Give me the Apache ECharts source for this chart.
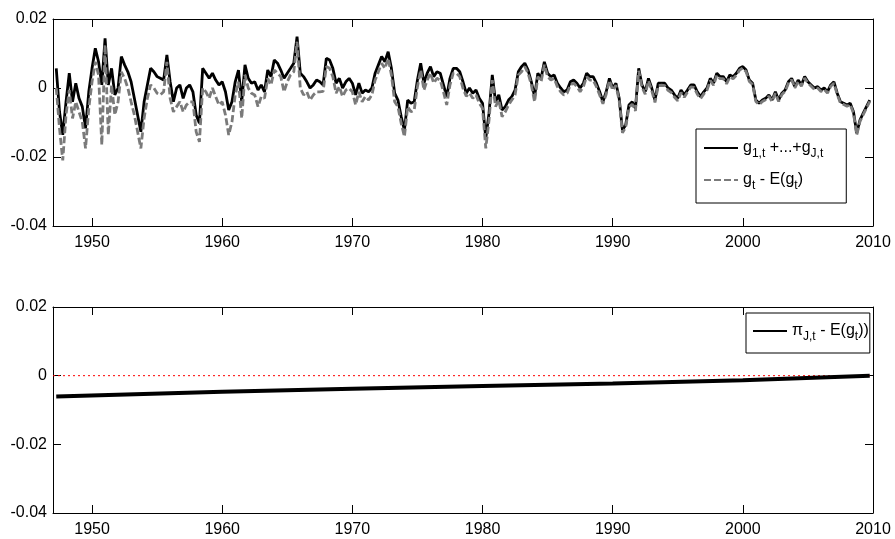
<!DOCTYPE html>
<html>
<head>
    <meta charset="utf-8">
    <title>g sum vs deviation</title>
    <script src="https://cdn.jsdelivr.net/npm/echarts@6/dist/echarts.min.js"></script>
    <style>
        html, body { margin: 0; padding: 0; background: #fff; }
        #main { width: 895px; height: 539px; }
    </style>
</head>
<body>
<div id="main"></div>
<script type="text/javascript">
// first plotted quarter, quarterly step
var startYear = 1947.25;
var yearTicks = [1950, 1960, 1970, 1980, 1990, 2000, 2010];

// g_1,t + ... + g_J,t  (one row per year, Q1..Q4; 1947 starts at Q2)
var sumG = [
    0.0057, -0.0069, -0.0136,
    -0.0040, 0.0043, -0.0040, 0.0014,
    -0.0030, -0.0054, -0.0117, -0.0011,
    0.0057, 0.0115, 0.0076, 0.0009,
    0.0144, 0.0009, 0.0057, -0.0020,
    0.0000, 0.0091, 0.0067, 0.0047,
    0.0018, -0.0030, -0.0078, -0.0127,
    -0.0040, 0.0009, 0.0057, 0.0047,
    0.0033, 0.0028, 0.0023, 0.0096,
    0.0018, -0.0040, 0.0000, 0.0009,
    -0.0030, 0.0000, 0.0009, -0.0011,
    -0.0078, -0.0102, 0.0057, 0.0043,
    0.0028, 0.0043, 0.0023, 0.0009,
    0.0018, -0.0011, -0.0064, -0.0040,
    0.0018, 0.0052, -0.0040, 0.0067,
    0.0028, 0.0014, 0.0018, -0.0006,
    0.0009, -0.0011, 0.0052, 0.0033,
    0.0081, 0.0072, 0.0052, 0.0028,
    0.0043, 0.0057, 0.0072, 0.0149,
    0.0043, 0.0033, 0.0018, 0.0000,
    0.0009, 0.0023, 0.0018, 0.0009,
    0.0086, 0.0081, 0.0057, 0.0014,
    0.0028, 0.0000, 0.0018, 0.0028,
    0.0014, -0.0020, 0.0014, -0.0015,
    -0.0006, -0.0011, 0.0000, 0.0043,
    0.0067, 0.0091, 0.0076, 0.0105,
    0.0057, -0.0015, -0.0035, -0.0083,
    -0.0122, -0.0035, -0.0044, -0.0040,
    0.0023, 0.0072, 0.0014, 0.0043,
    0.0062, 0.0033, 0.0047, 0.0043,
    0.0009, -0.0025, 0.0028, 0.0057,
    0.0057, 0.0047, 0.0018, -0.0015,
    0.0000, -0.0015, -0.0006, -0.0030,
    -0.0044, -0.0146, -0.0073, 0.0038,
    -0.0040, -0.0020, -0.0064, -0.0054,
    -0.0035, -0.0025, -0.0006, 0.0047,
    0.0062, 0.0072, 0.0052, 0.0018,
    -0.0025, 0.0043, 0.0028, 0.0076,
    0.0043, 0.0033, 0.0038, 0.0014,
    0.0000, -0.0011, -0.0006, 0.0018,
    0.0023, 0.0014, 0.0000, 0.0014,
    0.0043, 0.0033, 0.0033, 0.0014,
    -0.0011, -0.0040, -0.0011, 0.0028,
    0.0000, 0.0014, -0.0030, -0.0122,
    -0.0107, -0.0049, -0.0040, -0.0059,
    0.0057, 0.0009, -0.0011, 0.0028,
    0.0000, -0.0035, 0.0014, 0.0014,
    0.0014, 0.0000, -0.0006, -0.0020,
    -0.0030, -0.0006, -0.0020, -0.0006,
    0.0009, 0.0009, -0.0011, -0.0025,
    -0.0011, 0.0000, 0.0028, 0.0014,
    0.0043, 0.0033, 0.0033, 0.0018,
    0.0038, 0.0033, 0.0043, 0.0057,
    0.0062, 0.0052, 0.0023, 0.0014,
    -0.0035, -0.0044, -0.0035, -0.0030,
    -0.0020, -0.0035, -0.0011, -0.0035,
    -0.0015, -0.0006, 0.0018, 0.0028,
    0.0004, 0.0023, 0.0009, 0.0033,
    0.0018, 0.0009, 0.0000, 0.0004,
    -0.0006, 0.0000, -0.0011, 0.0009,
    0.0018, -0.0015, -0.0040, -0.0044,
    -0.0049, -0.0044, -0.0069, -0.0131,
    -0.0093, -0.0073, -0.0054, -0.0035
];

// g_t - E(g_t)
var gDev = [
    0.0000, -0.0117, -0.0210,
    -0.0078, -0.0006, -0.0088, -0.0040,
    -0.0069, -0.0098, -0.0175, -0.0059,
    0.0018, 0.0076, 0.0038, -0.0165,
    0.0125, -0.0136, 0.0009, -0.0078,
    -0.0040, 0.0047, 0.0028, 0.0000,
    -0.0040, -0.0078, -0.0127, -0.0175,
    -0.0088, -0.0030, 0.0009, 0.0000,
    -0.0015, -0.0020, -0.0011, 0.0076,
    -0.0030, -0.0069, -0.0054, -0.0040,
    -0.0069, -0.0049, -0.0040, -0.0040,
    -0.0127, -0.0156, 0.0000, -0.0011,
    -0.0030, 0.0000, -0.0025, -0.0049,
    -0.0040, -0.0078, -0.0136, -0.0098,
    -0.0020, 0.0018, -0.0088, 0.0038,
    0.0000, -0.0015, -0.0020, -0.0054,
    -0.0025, -0.0030, 0.0028, 0.0009,
    0.0052, 0.0043, 0.0033, -0.0011,
    0.0018, 0.0038, 0.0047, 0.0134,
    0.0000, -0.0020, -0.0011, -0.0035,
    -0.0020, -0.0011, -0.0011, -0.0010,
    0.0062, 0.0057, 0.0033, -0.0015,
    0.0004, -0.0025, -0.0006, -0.0001,
    -0.0011, -0.0049, -0.0011, -0.0040,
    -0.0025, -0.0035, -0.0020, 0.0023,
    0.0047, 0.0072, 0.0057, 0.0086,
    0.0038, -0.0040, -0.0054, -0.0102,
    -0.0141, -0.0054, -0.0069, -0.0064,
    0.0004, 0.0052, -0.0006, 0.0023,
    0.0043, 0.0014, 0.0028, 0.0023,
    -0.0011, -0.0049, 0.0009, 0.0043,
    0.0043, 0.0033, -0.0001, -0.0024,
    -0.0015, -0.0030, -0.0020, -0.0044,
    -0.0059, -0.0175, -0.0093, 0.0023,
    -0.0054, -0.0035, -0.0083, -0.0069,
    -0.0049, -0.0035, -0.0020, 0.0038,
    0.0047, 0.0062, 0.0043, 0.0009,
    -0.0040, 0.0033, 0.0018, 0.0067,
    0.0033, 0.0023, 0.0028, 0.0004,
    -0.0011, -0.0020, -0.0015, 0.0009,
    0.0014, 0.0004, -0.0011, 0.0004,
    0.0033, 0.0023, 0.0023, 0.0004,
    -0.0020, -0.0046, -0.0018, 0.0022,
    -0.0006, 0.0008, -0.0037, -0.0130,
    -0.0114, -0.0056, -0.0047, -0.0066,
    0.0050, 0.0002, -0.0018, 0.0021,
    -0.0007, -0.0042, 0.0007, 0.0008,
    0.0007, -0.0007, -0.0013, -0.0027,
    -0.0037, -0.0013, -0.0027, -0.0012,
    0.0003, 0.0002, -0.0018, -0.0031,
    -0.0017, -0.0006, 0.0022, 0.0008,
    0.0037, 0.0027, 0.0027, 0.0012,
    0.0032, 0.0027, 0.0037, 0.0052,
    0.0058, 0.0047, 0.0019, 0.0010,
    -0.0039, -0.0048, -0.0039, -0.0034,
    -0.0024, -0.0039, -0.0015, -0.0039,
    -0.0019, -0.0010, 0.0014, 0.0024,
    0.0000, 0.0019, 0.0005, 0.0029,
    0.0014, 0.0005, -0.0004, 0.0000,
    -0.0010, -0.0004, -0.0015, 0.0005,
    0.0014, -0.0019, -0.0044, -0.0048,
    -0.0053, -0.0048, -0.0073, -0.0136,
    -0.0097, -0.0077, -0.0058, -0.0039
];

// pi_J,t - E(g_t), read at a few dates
var piYears = [1947.25, 1960, 1970, 1980, 1990, 2000, 2009.75];
var piDev = [-0.0061, -0.0047, -0.0038, -0.0030, -0.0023, -0.0013, 0.0000];

// red dotted zero reference across the lower panel
var zeroYears = [1947, 2010];
var zeroLevel = [0, 0];

var FONT = '"Liberation Sans", Arial, sans-serif';

function pairs(xs, ys) {
    var out = [];
    for (var i = 0; i < ys.length; i++) out.push([xs[i], ys[i]]);
    return out;
}
var quarters = [];
for (var i = 0; i < sumG.length; i++) quarters.push(startYear + i * 0.25);

var legendNames = {
    sum: 'g{sub|1,t} +...+g{sub|J,t}',
    dev: 'g{sub|t} - E(g{sub|t})',
    pi: '\u03c0{sub|J,t} - E(g{sub|t}))'
};

function yFmt(v) {
    if (Math.abs(v) < 1e-9) return '0';
    return v.toFixed(2);
}

function xAxes(grid) {
    return [{
        gridIndex: grid, type: 'value', min: 1947, max: 2010,
        axisLine: { onZero: false, lineStyle: { color: '#000', width: 1 } },
        axisTick: { inside: true, length: 8, customValues: yearTicks, lineStyle: { color: '#000' } },
        axisLabel: {
            customValues: yearTicks, margin: 9, color: '#000', fontSize: 16, fontFamily: FONT,
            formatter: function (v) { return String(v); }
        },
        splitLine: { show: false }
    }, {
        gridIndex: grid, type: 'value', position: 'top', min: 1947, max: 2010,
        axisLine: { onZero: false, lineStyle: { color: '#000', width: 1 } },
        axisTick: { inside: true, length: 8, customValues: yearTicks, lineStyle: { color: '#000' } },
        axisLabel: { show: false },
        splitLine: { show: false }
    }];
}
function yAxes(grid) {
    return [{
        gridIndex: grid, type: 'value', min: -0.04, max: 0.02, interval: 0.02,
        axisLine: { show: true, onZero: false, lineStyle: { color: '#000', width: 1 } },
        axisTick: { show: true, inside: true, length: 8, lineStyle: { color: '#000' } },
        axisLabel: { formatter: yFmt, margin: 6, color: '#000', fontSize: 16, fontFamily: FONT },
        splitLine: { show: false }
    }, {
        gridIndex: grid, type: 'value', position: 'right', min: -0.04, max: 0.02, interval: 0.02,
        axisLine: { show: true, onZero: false, lineStyle: { color: '#000', width: 1 } },
        axisTick: { show: true, inside: true, length: 8, lineStyle: { color: '#000' } },
        axisLabel: { show: false },
        splitLine: { show: false }
    }];
}

var legendText = {
    color: '#000', fontSize: 16, fontFamily: FONT,
    rich: { sub: { fontSize: 12, fontFamily: FONT, color: '#000', padding: [12, 0, 0, 0] } }
};
// hide the marker dot in the legend icon, keep only the line sample
var legendDot = { color: 'rgba(0,0,0,0)', borderWidth: 0, opacity: 0 };

var myChart = echarts.init(document.getElementById('main'));
var option = {
    animation: false,
    backgroundColor: '#fff',
    grid: [
        { left: 53, top: 19, width: 820, height: 207 },
        { left: 53, top: 307, width: 820, height: 206 }
    ],
    xAxis: xAxes(0).concat(xAxes(1)),
    yAxis: yAxes(0).concat(yAxes(1)),
    legend: [{
        data: ['sum', 'dev'],
        orient: 'vertical', left: 696, top: 129,
        padding: [11, 23, 11, 7], itemGap: 12, itemWidth: 34, itemHeight: 14,
        backgroundColor: '#fff', borderColor: '#000', borderWidth: 1, borderRadius: 0,
        itemStyle: legendDot,
        formatter: function (n) { return legendNames[n]; },
        textStyle: legendText
    }, {
        data: ['pi'],
        orient: 'vertical', left: 746, top: 313,
        padding: [10, 1, 10, 6], itemWidth: 34, itemHeight: 14,
        backgroundColor: '#fff', borderColor: '#000', borderWidth: 1, borderRadius: 0,
        itemStyle: legendDot,
        formatter: function (n) { return legendNames[n]; },
        textStyle: legendText
    }],
    series: [{
        name: 'sum', type: 'line', xAxisIndex: 0, yAxisIndex: 0,
        data: pairs(quarters, sumG),
        showSymbol: false, symbol: 'none',
        lineStyle: { color: '#000', width: 2.8 },
        itemStyle: { color: '#000' }
    }, {
        name: 'dev', type: 'line', xAxisIndex: 0, yAxisIndex: 0,
        data: pairs(quarters, gDev),
        showSymbol: false, symbol: 'none',
        lineStyle: { color: '#7a7a7a', width: 2.8, type: [7, 3] },
        itemStyle: { color: '#7a7a7a' }
    }, {
        name: 'zero', type: 'line', xAxisIndex: 2, yAxisIndex: 2,
        data: pairs(zeroYears, zeroLevel),
        showSymbol: false, symbol: 'none', silent: true,
        lineStyle: { color: '#ff0000', width: 1, type: [2, 3] },
        itemStyle: { color: '#ff0000' }
    }, {
        name: 'pi', type: 'line', xAxisIndex: 2, yAxisIndex: 2,
        data: pairs(piYears, piDev),
        showSymbol: false, symbol: 'none',
        lineStyle: { color: '#000', width: 4 },
        itemStyle: { color: '#000' }
    }]
};
myChart.setOption(option);
</script>
</body>
</html>
